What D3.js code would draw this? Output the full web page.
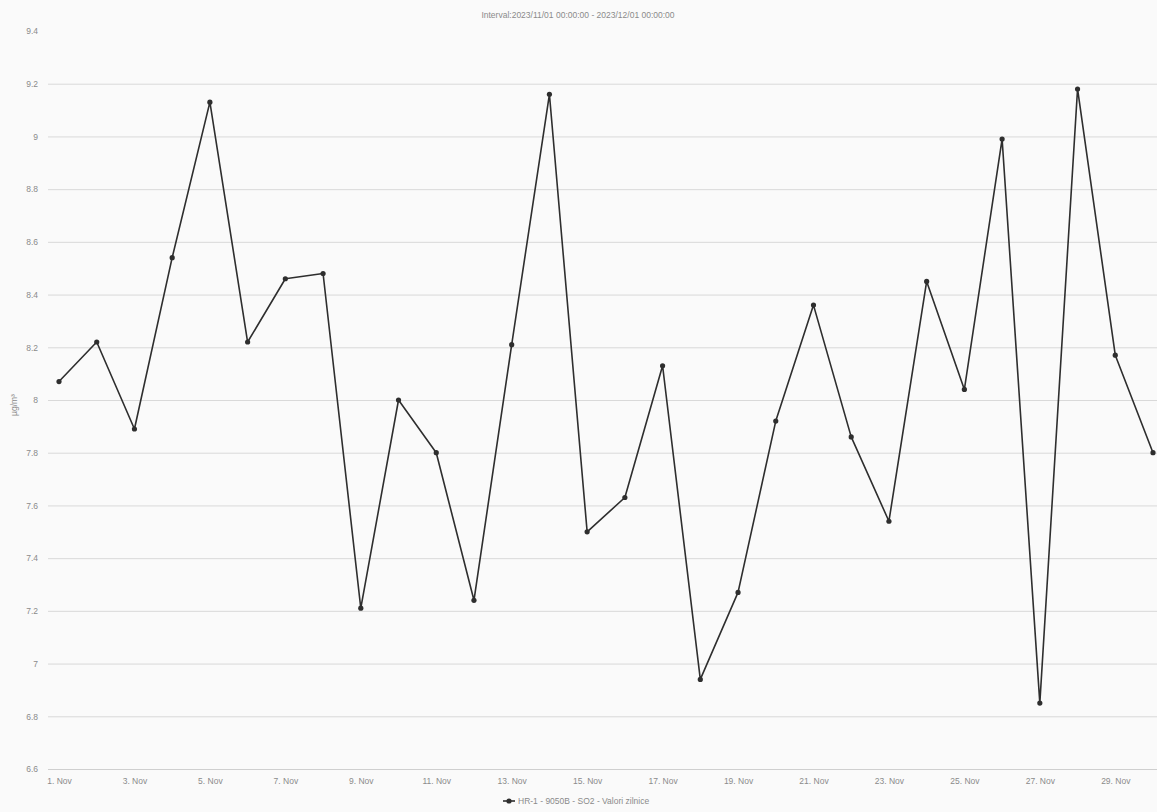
<!DOCTYPE html>
<html>
<head>
<meta charset="utf-8">
<script src="https://cdn.jsdelivr.net/npm/d3@7"></script>
<style>
  html, body { margin: 0; padding: 0; background: #fafafa; }
  svg { display: block; }
  text { font-family: "Liberation Sans", Arial, sans-serif; }
</style>
</head>
<body>
<svg id="chart" width="1157" height="812"></svg>
<script>
const titleText = "Interval:2023/11/01 00:00:00 - 2023/12/01 00:00:00";
const yAxisTitle = "µg/m³";
const seriesName = "HR-1 - 9050B - SO2 - Valori zilnice";

const days = d3.range(1, 31); // 1..30 Nov 2023
const values = [
  8.07, 8.22, 7.89, 8.54, 9.13, 8.22, 8.46, 8.48, 7.21, 8.00,
  7.80, 7.24, 8.21, 9.16, 7.50, 7.63, 8.13, 6.94, 7.27, 7.92,
  8.36, 7.86, 7.54, 8.45, 8.04, 8.99, 6.85, 9.18, 8.17, 7.80
];
const yTicks = [6.6, 6.8, 7, 7.2, 7.4, 7.6, 7.8, 8, 8.2, 8.4, 8.6, 8.8, 9, 9.2, 9.4];
const xTickDays = [1, 3, 5, 7, 9, 11, 13, 15, 17, 19, 21, 23, 25, 27, 29];

const data = days.map((d, i) => ({ date: new Date(2023, 10, d), value: values[i] }));

const svg = d3.select("#chart");
const W = 1157, H = 812;
const plotLeft = 48, plotRight = 1157, plotTop = 31, plotBottom = 769;

const x = d3.scaleTime()
  .domain([new Date(2023, 10, 1), new Date(2023, 10, 30)])
  .range([59, 1153]);
const y = d3.scaleLinear().domain([6.6, 9.4]).range([plotBottom, plotTop]);

svg.append("rect").attr("width", W).attr("height", H).attr("fill", "#fafafa");

// gridlines
const yAxis = d3.axisLeft(y).tickValues(yTicks)
  .tickFormat(d => d3.format("")(+d.toFixed(1)))
  .tickSize(-(plotRight - plotLeft)).tickPadding(10);
const gy = svg.append("g").attr("transform", `translate(${plotLeft},0)`).call(yAxis);
gy.select(".domain").remove();
gy.selectAll(".tick line").attr("stroke", d => d === 9.4 ? "none" : "#d9d9d9").attr("stroke-width", 1);
gy.selectAll(".tick text").attr("fill", "#8a8a8a").attr("font-size", 8.5);

// x axis
const xAxis = d3.axisBottom(x)
  .tickValues(xTickDays.map(d => new Date(2023, 10, d)))
  .tickFormat(d => d.getDate() + ". Nov")
  .tickSize(0).tickPadding(9);
const gx = svg.append("g").attr("transform", `translate(0,${plotBottom})`).call(xAxis);
gx.select(".domain").remove();
gx.selectAll(".tick text").attr("fill", "#8a8a8a").attr("font-size", 8.5);
svg.append("line").attr("x1", plotLeft).attr("x2", plotRight)
  .attr("y1", plotBottom + 0.5).attr("y2", plotBottom + 0.5)
  .attr("stroke", "#cfcfcf");

// title
svg.append("text").attr("x", 578).attr("y", 18).attr("text-anchor", "middle")
  .attr("font-size", 8.5).attr("fill", "#8a8a8a").text(titleText);

// y axis title
svg.append("text").attr("transform", "translate(17,405) rotate(-90)")
  .attr("text-anchor", "middle").attr("font-size", 8.5).attr("fill", "#8a8a8a")
  .text(yAxisTitle);

// series
const line = d3.line().x(d => x(d.date)).y(d => y(d.value));
svg.append("path").datum(data).attr("d", line)
  .attr("fill", "none").attr("stroke", "#2e2e2e").attr("stroke-width", 1.6)
  .attr("stroke-linejoin", "round");
svg.append("g").selectAll("circle").data(data).join("circle")
  .attr("cx", d => x(d.date)).attr("cy", d => y(d.value)).attr("r", 2.6)
  .attr("fill", "#2e2e2e");

// legend
const lg = svg.append("g").attr("transform", "translate(503,801)");
lg.append("line").attr("x1", 0).attr("x2", 12).attr("y1", 0).attr("y2", 0)
  .attr("stroke", "#2e2e2e").attr("stroke-width", 1.6);
lg.append("circle").attr("cx", 6).attr("cy", 0).attr("r", 2.6).attr("fill", "#2e2e2e");
lg.append("text").attr("x", 15).attr("y", 3).attr("font-size", 8.5).attr("fill", "#8a8a8a")
  .text(seriesName);
</script>
</body>
</html>
